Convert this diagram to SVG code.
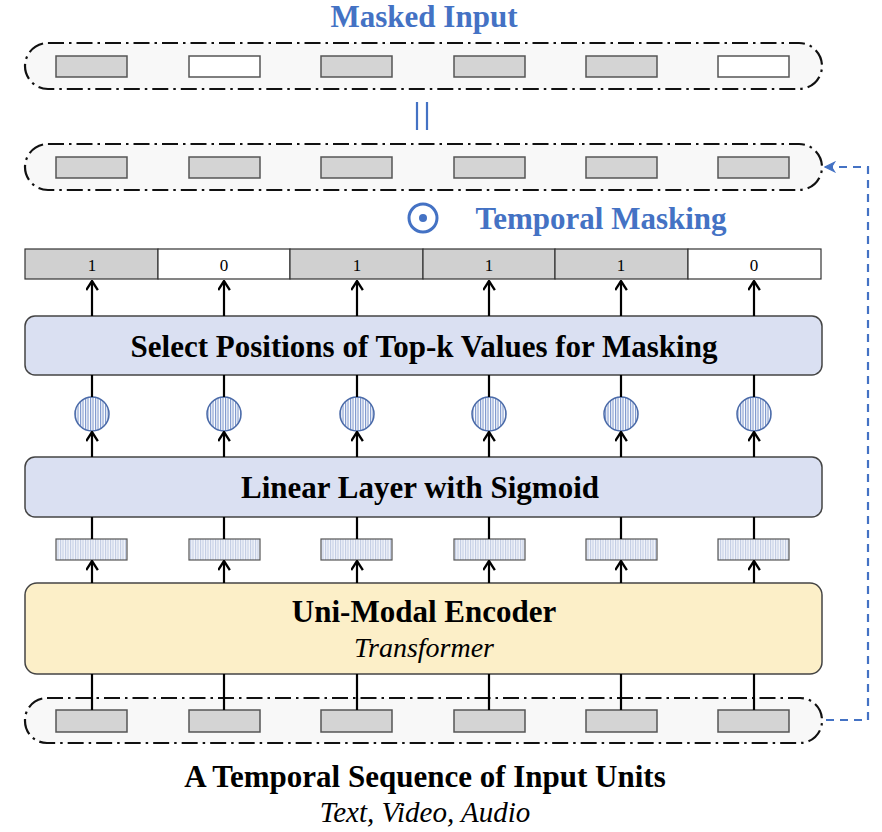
<svg xmlns="http://www.w3.org/2000/svg" width="882" height="832" viewBox="0 0 882 832">
<defs>
<style>
.cont{fill:#f8f8f8;stroke:#111;stroke-width:2.2;stroke-dasharray:16 5 2.5 5}
.unit{fill:#d4d4d4;stroke:#555;stroke-width:1.5}
.unitw{fill:#fff;stroke:#555;stroke-width:1.5}
.feat{fill:url(#hatchL);stroke:#555;stroke-width:1.2}
.sig{fill:url(#hatchB);stroke:#4a6aa8;stroke-width:1.5}
.box{stroke:#444;stroke-width:1.5}
.ln{stroke:#000;stroke-width:2.2;fill:none}
.arr{stroke:#000;stroke-width:2.2;fill:none;marker-end:url(#ah)}
.t{font-family:"Liberation Serif","Times New Roman",serif;text-anchor:middle}
.b{font-weight:bold}
.i{font-style:italic}
.blue{fill:#4472c4}
.cell1{fill:#d0d0d0;stroke:#333;stroke-width:1.2}
.cell0{fill:#fff;stroke:#333;stroke-width:1.2}
</style>
<pattern id="hatchB" width="2.5" height="10" patternUnits="userSpaceOnUse">
<rect width="2.5" height="10" fill="#ffffff"/>
<line x1="0.6" y1="0" x2="0.6" y2="10" stroke="#5b7cc0" stroke-width="0.9"/>
</pattern>
<pattern id="hatchL" width="2.5" height="10" patternUnits="userSpaceOnUse">
<rect width="2.5" height="10" fill="#f2f4fa"/>
<line x1="0.6" y1="0" x2="0.6" y2="10" stroke="#aab8d8" stroke-width="0.8"/>
</pattern>
<marker id="ah" viewBox="0 0 10 10" refX="9" refY="5" markerWidth="13" markerHeight="13" markerUnits="userSpaceOnUse" orient="auto">
<path d="M2,0.5 L9,5 L2,9.5" fill="none" stroke="#000" stroke-width="1.8"/>
</marker>
<marker id="ahb" viewBox="0 0 10 10" refX="9" refY="5" markerWidth="12" markerHeight="12" markerUnits="userSpaceOnUse" orient="auto">
<path d="M1,1 L9,5 L1,9 L3.5,5 Z" fill="#4472c4" stroke="#4472c4" stroke-width="1"/>
</marker>
</defs>
<rect width="882" height="832" fill="#fff"/>

<g id="masked-input">
<text class="t b blue" x="424" y="27" font-size="31">Masked Input</text>
<rect class="cont" x="25" y="43" width="797" height="46" rx="23"/>
<rect class="unit" x="56" y="56" width="71" height="21"/>
<rect class="unitw" x="189" y="56" width="71" height="21"/>
<rect class="unit" x="321" y="56" width="71" height="21"/>
<rect class="unit" x="454" y="56" width="71" height="21"/>
<rect class="unit" x="586" y="56" width="71" height="21"/>
<rect class="unitw" x="718" y="56" width="71" height="21"/>
</g>

<g id="equals">
<line x1="417" y1="102" x2="417" y2="130" stroke="#4472c4" stroke-width="2.2"/>
<line x1="427" y1="102" x2="427" y2="130" stroke="#4472c4" stroke-width="2.2"/>
</g>

<g id="copied-input">
<rect class="cont" x="25" y="144" width="797" height="46" rx="23"/>
<rect class="unit" x="56" y="157" width="71" height="21"/>
<rect class="unit" x="189" y="157" width="71" height="21"/>
<rect class="unit" x="321" y="157" width="71" height="21"/>
<rect class="unit" x="454" y="157" width="71" height="21"/>
<rect class="unit" x="586" y="157" width="71" height="21"/>
<rect class="unit" x="718" y="157" width="71" height="21"/>
</g>

<g id="temporal-masking">
<circle cx="423" cy="218" r="14" fill="none" stroke="#4472c4" stroke-width="3"/>
<circle cx="423" cy="218" r="4" fill="#4472c4"/>
<text class="t b blue" x="601" y="229" font-size="31">Temporal Masking</text>
</g>

<g id="mask-vector">
<rect class="cell1" x="25" y="249" width="133" height="30"/>
<rect class="cell0" x="158" y="249" width="132" height="30"/>
<rect class="cell1" x="290" y="249" width="133" height="30"/>
<rect class="cell1" x="423" y="249" width="132" height="30"/>
<rect class="cell1" x="555" y="249" width="133" height="30"/>
<rect class="cell0" x="688" y="249" width="133" height="30"/>
<g class="t" font-size="17">
<text x="92" y="271">1</text>
<text x="224" y="271">0</text>
<text x="357" y="271">1</text>
<text x="489" y="271">1</text>
<text x="621" y="271">1</text>
<text x="754" y="271">0</text>
</g>
</g>

<g id="select-topk">
<rect class="box" x="25" y="316" width="797" height="59" rx="10" fill="#dae0f2"/>
<text class="t b" x="424" y="357" font-size="31">Select Positions of Top-k Values for Masking</text>
</g>

<g id="sigmoid-outputs">
<circle class="sig" cx="92" cy="414" r="17"/>
<circle class="sig" cx="224" cy="414" r="17"/>
<circle class="sig" cx="357" cy="414" r="17"/>
<circle class="sig" cx="489" cy="414" r="17"/>
<circle class="sig" cx="621" cy="414" r="17"/>
<circle class="sig" cx="754" cy="414" r="17"/>
</g>

<g id="linear-sigmoid">
<rect class="box" x="25" y="457" width="797" height="60" rx="10" fill="#dae0f2"/>
<text class="t b" x="420" y="498" font-size="31">Linear Layer with Sigmoid</text>
</g>

<g id="features">
<rect class="feat" x="56" y="539" width="71" height="21"/>
<rect class="feat" x="189" y="539" width="71" height="21"/>
<rect class="feat" x="321" y="539" width="71" height="21"/>
<rect class="feat" x="454" y="539" width="71" height="21"/>
<rect class="feat" x="586" y="539" width="71" height="21"/>
<rect class="feat" x="718" y="539" width="71" height="21"/>
</g>

<g id="encoder">
<rect class="box" x="25" y="583" width="797" height="91" rx="12" fill="#fcefc8"/>
<text class="t b" x="424" y="622" font-size="31">Uni-Modal Encoder</text>
<text class="t i" x="424" y="657" font-size="28">Transformer</text>
</g>

<g id="input-sequence">
<rect class="cont" x="25" y="698" width="797" height="45" rx="22"/>
<rect class="unit" x="56" y="710" width="71" height="22"/>
<rect class="unit" x="189" y="710" width="71" height="22"/>
<rect class="unit" x="321" y="710" width="71" height="22"/>
<rect class="unit" x="454" y="710" width="71" height="22"/>
<rect class="unit" x="586" y="710" width="71" height="22"/>
<rect class="unit" x="718" y="710" width="71" height="22"/>
<text class="t b" x="425" y="787" font-size="31">A Temporal Sequence of Input Units</text>
<text class="t i" x="425" y="822" font-size="29">Text, Video, Audio</text>
</g>

<g id="connectors">
<path class="arr" d="M92,316 V281"/>
<path class="arr" d="M224,316 V281"/>
<path class="arr" d="M357,316 V281"/>
<path class="arr" d="M489,316 V281"/>
<path class="arr" d="M621,316 V281"/>
<path class="arr" d="M754,316 V281"/>
<path class="ln" d="M92,375 V397 M224,375 V397 M357,375 V397 M489,375 V397 M621,375 V397 M754,375 V397"/>
<path class="ln" d="M92,517 V539 M224,517 V539 M357,517 V539 M489,517 V539 M621,517 V539 M754,517 V539"/>
<path class="ln" d="M92,674 V710 M224,674 V710 M357,674 V710 M489,674 V710 M621,674 V710 M754,674 V710"/>
<path class="arr" d="M92,457 V432"/>
<path class="arr" d="M224,457 V432"/>
<path class="arr" d="M357,457 V432"/>
<path class="arr" d="M489,457 V432"/>
<path class="arr" d="M621,457 V432"/>
<path class="arr" d="M754,457 V432"/>
<path class="arr" d="M92,583 V561"/>
<path class="arr" d="M224,583 V561"/>
<path class="arr" d="M357,583 V561"/>
<path class="arr" d="M489,583 V561"/>
<path class="arr" d="M621,583 V561"/>
<path class="arr" d="M754,583 V561"/>
<path d="M826,720 H868 V167 H825" fill="none" stroke="#4472c4" stroke-width="2.2" stroke-dasharray="8 6" marker-end="url(#ahb)"/>
</g>
</svg>
